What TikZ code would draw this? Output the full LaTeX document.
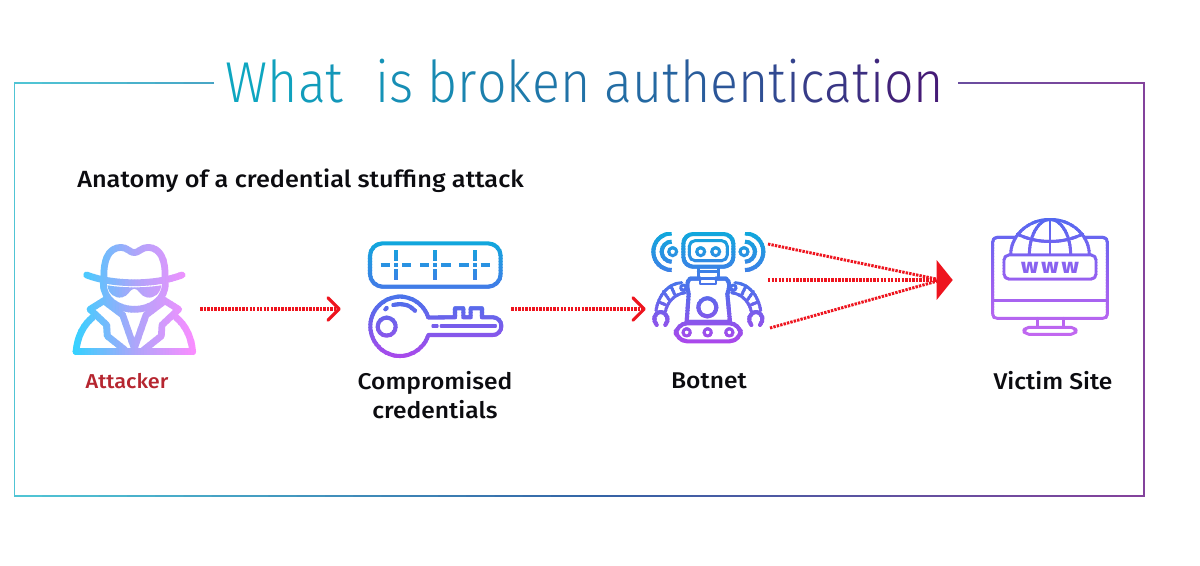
\documentclass[tikz,border=0pt]{standalone}
\usepackage{fontspec}
\usepackage{xcolor}
\usetikzlibrary{arrows.meta}
\newfontfamily\titlefont[UprightFont=* Light,FakeStretch=0.9]{Fira Sans}
\newfontfamily\labelfont[UprightFont=* Medium,FakeStretch=1.08]{Fira Sans}

\definecolor{colArrow}{RGB}{238, 20, 30}
\definecolor{colAttacker}{RGB}{182, 38, 48}
\definecolor{darkText}{RGB}{12, 12, 16}
\definecolor{frameA}{RGB}{80, 196, 212}
\definecolor{frameB}{RGB}{52, 100, 166}
\definecolor{frameC}{RGB}{135, 65, 155}
\definecolor{titleA}{RGB}{14, 166, 192}
\definecolor{titleB}{RGB}{38, 100, 160}
\definecolor{titleC}{RGB}{74, 14, 110}
\definecolor{spyA}{RGB}{52, 210, 255}
\definecolor{spyB}{RGB}{175, 165, 250}
\definecolor{spyC}{RGB}{255, 140, 255}
\definecolor{techA}{RGB}{16, 168, 220}
\definecolor{techB}{RGB}{80, 110, 235}
\definecolor{techC}{RGB}{176, 70, 235}
\definecolor{siteA}{RGB}{84, 104, 240}
\definecolor{siteB}{RGB}{150, 96, 240}
\definecolor{siteC}{RGB}{196, 104, 240}
\colorlet{stripCol}{black}

% title letters, one colour each
\newcounter{glyph}
\newcommand{\gl}[1]{%
  \pgfmathtruncatemacro\pc{\theglyph<14 ? 100-\theglyph*100/14 : 100-(\theglyph-14)*100/13}%
  \ifnum\value{glyph}<14 \colorlet{glyphCol}{titleA!\pc!titleB}\else \colorlet{glyphCol}{titleB!\pc!titleC}\fi
  \textcolor{glyphCol}{#1}\stepcounter{glyph}}

% thin clipped bands give the colour run on the strokes
% #1 #2 from/to, #3 #4 #5 colours, #6 what is drawn
\newcommand{\stripsV}[6]{%
  \foreach \s in {0,...,39}{%
    \pgfmathsetmacro\ya{#1+(#2-#1)/40*\s}
    \pgfmathsetmacro\yb{#1+(#2-#1)/40*(\s+1)+0.5}
    \pgfmathtruncatemacro\pc{\s<20 ? 100-\s*5 : 100-(\s-20)*5}
    \ifnum\s<20 \colorlet{stripCol}{#3!\pc!#4}\else \colorlet{stripCol}{#4!\pc!#5}\fi
    \begin{scope}
      \clip (0,\ya) rectangle (1200,\yb);
      #6
    \end{scope}
  }}
\newcommand{\stripsH}[6]{%
  \foreach \s in {0,...,39}{%
    \pgfmathsetmacro\xa{#1+(#2-#1)/40*\s}
    \pgfmathsetmacro\xb{#1+(#2-#1)/40*(\s+1)+0.5}
    \pgfmathtruncatemacro\pc{\s<20 ? 100-\s*5 : 100-(\s-20)*5}
    \ifnum\s<20 \colorlet{stripCol}{#3!\pc!#4}\else \colorlet{stripCol}{#4!\pc!#5}\fi
    \begin{scope}
      \clip (\xa,0) rectangle (\xb,565);
      #6
    \end{scope}
  }}

\tikzset{
  iconbox/.style n args={2}{minimum width=#1*0.025cm, minimum height=#2*0.025cm, inner sep=0pt},
  caption/.style={font=\labelfont\fontsize{16.2}{20.5}\selectfont, text=darkText, align=center, inner sep=0pt},
  frameline/.style={draw=stripCol, line width=0.75pt},
  spyline/.style={draw=stripCol, line width=4.8pt, line cap=round, line join=round},
  techline/.style={draw=stripCol, line width=2.9pt, line cap=round, line join=round},
  thinline/.style={draw=stripCol, line width=2.1pt, line cap=round, line join=round},
  flow/.style={colArrow, line width=2.1pt, dash pattern=on 1.7pt off 0.8pt},
  flatflow/.style={flow, line width=2.7pt},
  chevron/.style={-{Straight Barb[length=8pt, width=16pt, line width=2.2pt, round]}},
  bighead/.style={-{Triangle[length=11.4pt, width=27.7pt]}}
}

% icons, drawn in zoomed coordinates
\newcommand{\spyIcon}{%
  \begin{scope}[shift={(50,220)}, scale=1/3]
    % hat
    \draw[spyline] (162,172) .. controls (160,120) and (175,84) .. (212,82) .. controls (232,82) and (240,98) .. (253,98) .. controls (266,98) and (274,82) .. (295,82) .. controls (332,84) and (347,120) .. (345,172);
    \draw[spyline] (110,165) .. controls (190,196) and (316,196) .. (396,165);
    % face and glasses
    \draw[spyline] (160,190) .. controls (160,240) and (205,268) .. (253,268) .. controls (301,268) and (346,240) .. (346,190);
    \fill[stripCol] (172,196) .. controls (220,204) and (286,204) .. (334,196) .. controls (330,222) and (312,236) .. (290,232) .. controls (272,230) and (266,206) .. (253,206) .. controls (240,206) and (234,230) .. (216,232) .. controls (194,236) and (176,222) .. (172,196) -- cycle;
    % coat
    \draw[spyline] (78,395) -- (428,395);
    \draw[spyline] (78,395) .. controls (82,350) and (100,315) .. (128,292);
    \draw[spyline] (428,395) .. controls (424,350) and (406,315) .. (378,292);
    \draw[spyline] (165,240) -- (120,268) -- (170,315) -- (172,348) -- (225,390);
    \draw[spyline] (341,240) -- (386,268) -- (336,315) -- (334,348) -- (281,390);
    \draw[spyline] (165,245) -- (218,285) -- (253,385) -- (288,285) -- (341,245);
  \end{scope}}

\newcommand{\keyIcon}{%
  \begin{scope}[shift={(340,220)}, scale=1/3]
    \draw[techline, rounded corners=9pt] (90,70) rectangle (482,200);
    \foreach \k in {168,286,404}{
      \draw[techline, line cap=butt] (\k,90) -- (\k,122) (\k,148) -- (\k,180) (\k,130) -- (\k,140)
        (\k-46,135) -- (\k-18,135) (\k+18,135) -- (\k+46,135);
    }
    % key
    \draw[techline] (265,345) arc[start angle=17, end angle=343, radius=89]
      -- (345,292) -- (345,265) -- (370,265) -- (370,292) -- (392,292) -- (392,265) -- (426,265) -- (426,292)
      -- (458,292) .. controls (475,292) and (484,305) .. (484,318) .. controls (484,332) and (475,345) .. (458,345) -- cycle;
    \draw[techline] (305,318) -- (465,318);
    \draw[techline] (280,318) -- (290,318);
    \draw[techline] (140,320) circle (27);
    \draw[techline] (160,255) .. controls (185,248) and (210,255) .. (225,272);
    \draw[techline] (136,268) -- (140,264);
  \end{scope}}

\newcommand{\botSide}{%
  % waves
  \draw[techline, line cap=butt] (125,40) arc[start angle=-90, end angle=-270, radius=55];
  \draw[techline, line cap=butt] (125,65) arc[start angle=-90, end angle=-270, radius=30];
  \draw[thinline] (128,95) circle (12);
  % arm
  \draw[thinline] (155,188) .. controls (115,190) and (85,225) .. (78,272);
  \draw[thinline] (165,218) .. controls (135,222) and (112,245) .. (106,275);
  \draw[thinline] (160,203) circle (8);
  \foreach \ax/\ay/\bx/\by in {122/197/135/225, 100/215/118/240, 85/245/108/255}{
    \draw[thinline] (\ax,\ay) -- (\bx,\by);
  }
  % claw
  \draw[techline] (80,315) .. controls (68,300) and (70,280) .. (92,276) .. controls (114,280) and (118,300) .. (106,315);}

\newcommand{\botIcon}{%
  \begin{scope}[shift={(630,220)}, scale=1/3]
    \draw[techline, rounded corners=7pt] (160,42) rectangle (310,140);
    \draw[thinline, rounded corners=4pt] (178,62) rectangle (292,122);
    \draw[thinline] (212,95) circle (12) (257,95) circle (12);
    % neck
    \draw[thinline] (205,142) -- (205,175) (265,142) -- (265,175);
    \draw[thinline] (205,155) -- (265,155);
    \draw[thinline] (210,175) rectangle (258,192);
    % body
    \draw[techline] (210,176) -- (180,176) .. controls (168,185) and (172,205) .. (176,222) -- (170,306) -- (300,306) -- (292,222) .. controls (298,205) and (302,185) .. (288,176) -- (258,176);
    \draw[techline] (232,262) circle (27);
    % tracks
    \draw[techline, rounded corners=8pt] (138,310) rectangle (332,364);
    \draw[thinline] (170,337) circle (11) (233,337) circle (11) (298,337) circle (11);
    \botSide
    \begin{scope}[shift={(470,0)}, xscale=-1]
      \botSide
    \end{scope}
  \end{scope}}

\newcommand{\siteIcon}{%
  \begin{scope}[shift={(900,210)}, scale=1/3]
    % screen
    \draw[thinline] (345,82) -- (292,82) .. controls (283,82) and (278,87) .. (278,96) -- (278,312) .. controls (278,321) and (283,325) .. (292,325) -- (608,325) .. controls (617,325) and (622,321) .. (622,312) -- (622,96) .. controls (622,87) and (617,82) .. (608,82) -- (555,82);
    \draw[thinline] (278,272) -- (622,272);
    % globe
    \draw[thinline] (332,135) arc[start angle=180, end angle=360, x radius=118, y radius=107];
    \draw[thinline] (388,135) arc[start angle=180, end angle=360, x radius=62, y radius=107];
    \draw[thinline] (450,28) -- (450,135);
    \draw[thinline] (352,72) .. controls (410,102) and (490,102) .. (548,72);
    \draw[thinline, rounded corners=3.5pt, fill=white] (312,135) rectangle (588,207);
    % stand
    \draw[thinline] (412,325) -- (412,352) (490,325) -- (490,352);
    \draw[thinline, rounded corners=3.5pt] (372,352) rectangle (528,373);
  \end{scope}}

\begin{document}
\begin{tikzpicture}[x=0.025cm, y=-0.025cm]

  % page, same size as the reference
  \useasboundingbox (0,0) rectangle (1200,565);
  \fill[white] (0,0) rectangle (1200,565);

  % frame with a gap for the title
  \stripsH{14}{1145}{frameA}{frameB}{frameC}{%
    \draw[frameline] (214,83) -- (14,83) -- (14,496) -- (1144,496) -- (1144,83) -- (958,83);
  }

  % title and subtitle
  \node[font=\titlefont\fontsize{41}{48}\selectfont, inner sep=0pt, anchor=base] (title) at (585,102)
    {\gl{W}\gl{h}\gl{a}\gl{t}\hspace{0.55em}\gl{i}\gl{s}\hspace{0.25em}\gl{b}\gl{r}\gl{o}\gl{k}\gl{e}\gl{n}\hspace{0.25em}\gl{a}\gl{u}\gl{t}\gl{h}\gl{e}\gl{n}\gl{t}\gl{i}\gl{c}\gl{a}\gl{t}\gl{i}\gl{o}\gl{n}};
  \node[caption, font=\labelfont\fontsize{16.65}{20}\selectfont, anchor=base west] (subtitle) at (77,187) {Anatomy of a credential stuffing attack};

  % the four icons
  \stripsH{72}{197}{spyA}{spyB}{spyC}{\spyIcon}
  \stripsV{240}{360}{techA}{techB}{techC}{\keyIcon}
  \stripsV{232}{344}{techA}{techB}{techC}{\botIcon}
  \stripsV{218}{336}{siteA}{siteB}{siteC}{\siteIcon}
  \node[font=\labelfont\bfseries\fontsize{15}{15}\selectfont, text=siteB!80!siteA, inner sep=0pt] (www) at (1050,267.5) {\addfontfeature{LetterSpace=14}www};

  % boxes the connectors stop at
  \node[iconbox={130}{110}] (attacker) at (135,309) {};
  \node[iconbox={170}{110}] (credentials) at (426,309) {};
  \node[iconbox={122}{110}] (botnet) at (707,309) {};
  \node[iconbox={162}{120}] (victim) at (1034,280) {};
  \coordinate (botTop) at (768,244);
  \coordinate (botMid) at (768,280);
  \coordinate (botLow) at (770,328);
  \coordinate (hub) at (941,280);

  % labels
  \node[caption, font=\labelfont\fontsize{14.3}{16}\selectfont, text=colAttacker] (attackerLabel) at (127,381.5) {Attacker};
  \node[caption] (credentialsLabel) at (435,395) {Compromised\\credentials};
  \node[caption] (botnetLabel) at (709,381) {Botnet};
  \node[caption] (victimLabel) at (1053,381) {Victim Site};

  % connectors
  \draw[flatflow, chevron] (attacker) -- (credentials);
  \draw[flatflow, chevron] (credentials) -- (botnet);
  \draw[flow] (botTop) -- (hub);
  \draw[flow] (botLow) -- (hub);
  \draw[flatflow, bighead] (botMid) -- (victim.west);

\end{tikzpicture}
\end{document}
